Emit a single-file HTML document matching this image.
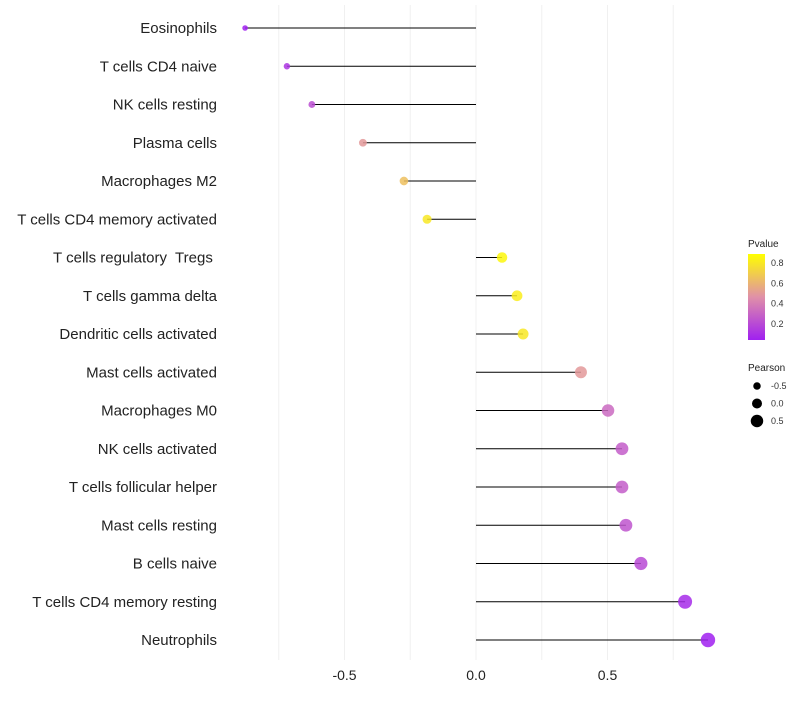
<!DOCTYPE html>
<html><head><meta charset="utf-8"><style>
body{margin:0;background:#fff;font-family:"Liberation Sans",sans-serif;}
text{white-space:pre;}
</style></head><body>
<svg id="c" width="800" height="700" xmlns="http://www.w3.org/2000/svg">
<defs><linearGradient id="g" x1="0" y1="1" x2="0" y2="0">
<stop offset="0" stop-color="#a020f0"/><stop offset="0.5" stop-color="#e090a8"/><stop offset="1" stop-color="#ffff00"/></linearGradient></defs>
</svg>
<script>
const cells=["Eosinophils","T cells CD4 naive","NK cells resting","Plasma cells","Macrophages M2","T cells CD4 memory activated","T cells regulatory  Tregs ","T cells gamma delta","Dendritic cells activated","Mast cells activated","Macrophages M0","NK cells activated","T cells follicular helper","Mast cells resting","B cells naive","T cells CD4 memory resting","Neutrophils"];
const pearson=[-0.878,-0.719,-0.624,-0.43,-0.274,-0.186,0.099,0.156,0.179,0.399,0.502,0.555,0.555,0.570,0.627,0.795,0.882];
const pvalue=[0.03,0.12,0.22,0.5,0.65,0.8,0.86,0.82,0.8,0.5,0.32,0.27,0.27,0.24,0.2,0.08,0.04];
const xTicks=[-0.5,0,0.5];
const xLabels=["-0.5","0.0","0.5"];
const pTicks=[0.2,0.4,0.6,0.8];
const sizeKeys=[-0.5,0,0.5];
const svg=document.getElementById('c');const NS="http://www.w3.org/2000/svg";
const X=v=>476+v*263;const Y=i=>28+i*38.25;
const R=v=>5+2.5*v;
function mk(t,a,p){const e=document.createElementNS(NS,t);for(const k in a)e.setAttribute(k,a[k]);(p||svg).appendChild(e);return e;}
function col(p){const t=Math.max(0,Math.min(1,(p-0.04)/0.85));const s=[[160,32,240],[224,144,168],[255,255,0]];let a,b,f;if(t<0.5){a=s[0];b=s[1];f=t/0.5}else{a=s[1];b=s[2];f=(t-0.5)/0.5}return `rgb(${a.map((v,i)=>Math.round(v+(b[i]-v)*f)).join(',')})`;}
for(let v=-0.75;v<=0.76;v+=0.25){const g=mk('line',{x1:X(v),x2:X(v),y1:5,y2:660,stroke:'#f0f0f0','stroke-width':1});}
xTicks.forEach((v,i)=>{const t=mk('text',{x:X(v),y:680,'text-anchor':'middle','font-size':14,fill:'#222'});t.textContent=xLabels[i];});
cells.forEach((c,i)=>{
const t=mk('text',{x:217,y:Y(i)+5,'text-anchor':'end','font-size':15,fill:'#222'});t.textContent=c;
const l=mk('line',{x1:X(0),x2:X(pearson[i]),y1:Y(i),y2:Y(i),stroke:'#000','stroke-width':1});
const d=mk('circle',{cx:X(pearson[i]),cy:Y(i),r:R(pearson[i]),fill:col(pvalue[i]),'fill-opacity':0.85});
});
let t=mk('text',{x:748,y:247,'font-size':10,fill:'#222'});t.textContent='Pvalue';
let b=mk('rect',{x:748,y:254,width:17,height:86,fill:'url(#g)'});
const PY=p=>340-(p-0.04)/0.85*86;
pTicks.forEach(p=>{const tt=mk('text',{x:771,y:PY(p)+3,'font-size':9,fill:'#333'});tt.textContent=p.toFixed(1);});
t=mk('text',{x:748,y:371,'font-size':10,fill:'#222'});t.textContent='Pearson';
sizeKeys.forEach((v,i)=>{const y=386+i*17.5;const c=mk('circle',{cx:757,cy:y,r:R(v),fill:'#000'});const tt=mk('text',{x:771,y:y+3,'font-size':9,fill:'#333'});tt.textContent=v.toFixed(1);});
</script>
</body></html>
